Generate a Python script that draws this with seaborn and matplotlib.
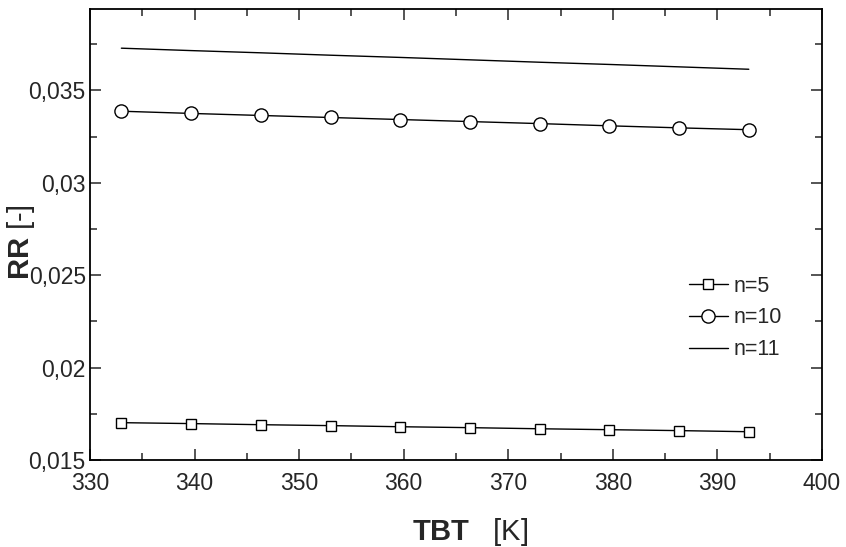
import numpy as np
import pandas as pd
import matplotlib
matplotlib.use("Agg")
import matplotlib.pyplot as plt
from matplotlib.ticker import MultipleLocator, FuncFormatter
import seaborn as sns

# data
tbt = [333.0, 339.67, 346.33, 353.0, 359.67, 366.33, 373.0, 379.67, 386.33, 393.0]
rr_n5 = [0.01702, 0.01697, 0.01691, 0.01686, 0.01680, 0.01675, 0.01669, 0.01664, 0.01659, 0.01653]
rr_n10 = [0.03387, 0.03375, 0.03364, 0.03353, 0.03342, 0.03331, 0.03320, 0.03308, 0.03297, 0.03287]
rr_n11 = [0.03728, 0.03715, 0.03703, 0.03690, 0.03678, 0.03665, 0.03652, 0.03640, 0.03627, 0.03614]

sns.set_style("ticks")
plt.rcParams['font.family'] = ['Liberation Sans', 'DejaVu Sans']
plt.rcParams['mathtext.fontset'] = 'custom'
plt.rcParams['mathtext.rm'] = 'Liberation Sans'
plt.rcParams['mathtext.bf'] = 'Liberation Sans:bold'

fig = plt.figure(figsize=(8.46, 5.47), dpi=100)
ax = fig.add_axes([90/846, 1 - 460/547, 732/846, 451/547])

sns.lineplot(x=tbt, y=rr_n5, ax=ax, color='black', lw=1, marker='s', markersize=7.5,
             markerfacecolor='white', markeredgecolor='black', markeredgewidth=1, label='n=5')
sns.lineplot(x=tbt, y=rr_n10, ax=ax, color='black', lw=1, marker='o', markersize=9.5,
             markerfacecolor='white', markeredgecolor='black', markeredgewidth=1, label='n=10')
sns.lineplot(x=tbt, y=rr_n11, ax=ax, color='black', lw=1, label='n=11')

ax.set_xlim(330, 400)
ax.set_ylim(0.015, 0.0394)
ax.xaxis.set_major_locator(MultipleLocator(10))
ax.xaxis.set_minor_locator(MultipleLocator(5))
ax.yaxis.set_major_locator(MultipleLocator(0.005))
ax.yaxis.set_minor_locator(MultipleLocator(0.0025))
ax.yaxis.set_major_formatter(FuncFormatter(lambda v, p: f"{v:g}".replace('.', ',')))

ax.tick_params(which='both', direction='in', top=True, right=True, width=1.1, labelsize=16.5)
ax.tick_params(which='major', length=8)
ax.tick_params(which='minor', length=5)
ax.tick_params(axis='x', which='major', pad=9)
ax.tick_params(axis='y', which='major', pad=3)
for s in ax.spines.values():
    s.set_linewidth(1.3)
    s.set_color('black')

ax.set_xlabel(r"$\mathbf{TBT}$   [K]", fontsize=21)
ax.set_ylabel(r"$\mathbf{RR}$ [-]", fontsize=21)
ax.xaxis.set_label_coords(0.52, -0.125)
ax.yaxis.set_label_coords(-0.072, 0.483)

ax.legend(loc='upper left', bbox_to_anchor=(0.792, 0.452), frameon=False, fontsize=15.5,
          handlelength=1.8, handletextpad=0.25, labelspacing=0.5)

fig.savefig("out.png", dpi=100)
